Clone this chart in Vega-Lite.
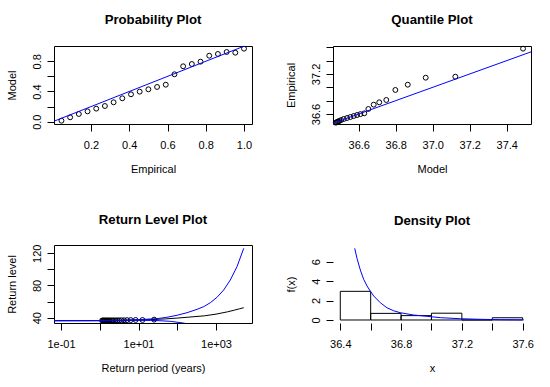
{
  "$schema": "https://vega.github.io/schema/vega-lite/v6.json",
  "padding": {"left": 5, "top": 12, "right": 5, "bottom": 5},
  "bounds": "flush",
  "columns": 2,
  "spacing": {"row": 121, "column": 81},
  "config": {
    "font": "Liberation Sans",
    "view": {"stroke": "black", "strokeWidth": 1},
    "title": {"fontSize": 13.2, "fontWeight": "bold", "offset": 17, "color": "black", "font": "Liberation Sans", "anchor": "middle"},
    "axis": {"labelFont": "Liberation Sans", "titleFont": "Liberation Sans", "labelFontSize": 11, "titleFontSize": 11, "titleFontWeight": "normal", "labelColor": "black", "titleColor": "black", "tickColor": "black", "domainColor": "black", "tickSize": 7, "grid": false, "labelFlush": false, "labelOverlap": false, "domain": false},
    "axisX": {"labelPadding": 8, "titlePadding": 13},
    "axisY": {"labelAngle": 270, "labelAlign": "center", "labelBaseline": "bottom", "labelPadding": 5, "titlePadding": 14}
  },
  "datasets": {
    "pp": [
      {"empirical": 0.0455, "model": 0.013}, {"empirical": 0.0909, "model": 0.058}, {"empirical": 0.1364, "model": 0.102},
      {"empirical": 0.1818, "model": 0.137}, {"empirical": 0.2273, "model": 0.173}, {"empirical": 0.2727, "model": 0.208},
      {"empirical": 0.3182, "model": 0.257}, {"empirical": 0.3636, "model": 0.31}, {"empirical": 0.4091, "model": 0.363},
      {"empirical": 0.4545, "model": 0.398}, {"empirical": 0.5, "model": 0.429}, {"empirical": 0.5455, "model": 0.46},
      {"empirical": 0.5909, "model": 0.49}, {"empirical": 0.6364, "model": 0.628}, {"empirical": 0.6818, "model": 0.734},
      {"empirical": 0.7273, "model": 0.764}, {"empirical": 0.7727, "model": 0.795}, {"empirical": 0.8182, "model": 0.874},
      {"empirical": 0.8636, "model": 0.897}, {"empirical": 0.9091, "model": 0.923}, {"empirical": 0.9545, "model": 0.914},
      {"empirical": 1.0, "model": 0.967}
    ],
    "ppline": [{"empirical": 0, "model": 0}, {"empirical": 1.05, "model": 1.05}],
    "qq": [
      {"model": 36.476, "empirical": 36.47}, {"model": 36.481, "empirical": 36.477}, {"model": 36.486, "empirical": 36.483},
      {"model": 36.49, "empirical": 36.488}, {"model": 36.495, "empirical": 36.495}, {"model": 36.505, "empirical": 36.51},
      {"model": 36.519, "empirical": 36.525}, {"model": 36.537, "empirical": 36.54}, {"model": 36.555, "empirical": 36.555},
      {"model": 36.573, "empirical": 36.57}, {"model": 36.591, "empirical": 36.585}, {"model": 36.609, "empirical": 36.598},
      {"model": 36.63, "empirical": 36.61}, {"model": 36.652, "empirical": 36.675}, {"model": 36.681, "empirical": 36.74},
      {"model": 36.711, "empirical": 36.775}, {"model": 36.749, "empirical": 36.81}, {"model": 36.798, "empirical": 36.96},
      {"model": 36.865, "empirical": 37.039}, {"model": 36.962, "empirical": 37.144}, {"model": 37.122, "empirical": 37.159},
      {"model": 37.488, "empirical": 37.579}
    ],
    "qqline": [{"model": 36.4, "empirical": 36.4}, {"model": 37.6, "empirical": 37.6}],
    "rlpts": [
      {"T": 1.15, "level": 36.47}, {"T": 1.205, "level": 36.477}, {"T": 1.265, "level": 36.483}, {"T": 1.332, "level": 36.488},
      {"T": 1.406, "level": 36.495}, {"T": 1.488, "level": 36.51}, {"T": 1.581, "level": 36.525}, {"T": 1.687, "level": 36.54},
      {"T": 1.807, "level": 36.555}, {"T": 1.946, "level": 36.57}, {"T": 2.108, "level": 36.585}, {"T": 2.3, "level": 36.598},
      {"T": 2.53, "level": 36.61}, {"T": 2.811, "level": 36.675}, {"T": 3.163, "level": 36.74}, {"T": 3.614, "level": 36.775},
      {"T": 4.217, "level": 36.81}, {"T": 5.06, "level": 36.96}, {"T": 6.325, "level": 37.039}, {"T": 8.433, "level": 37.144},
      {"T": 12.65, "level": 37.159}, {"T": 25.3, "level": 37.579}
    ],
    "rlline": [
      {"series": "est", "T": 0.066, "level": 36.3}, {"series": "est", "T": 0.5, "level": 36.32}, {"series": "est", "T": 1, "level": 36.36},
      {"series": "est", "T": 1.5, "level": 36.48}, {"series": "est", "T": 2, "level": 36.56}, {"series": "est", "T": 3, "level": 36.68},
      {"series": "est", "T": 5, "level": 36.86}, {"series": "est", "T": 10, "level": 37.15}, {"series": "est", "T": 20, "level": 37.6},
      {"series": "est", "T": 50, "level": 38.5}, {"series": "est", "T": 100, "level": 39.5}, {"series": "est", "T": 200, "level": 40.7},
      {"series": "est", "T": 500, "level": 42.3}, {"series": "est", "T": 1000, "level": 44.4}, {"series": "est", "T": 2000, "level": 47.3},
      {"series": "est", "T": 3000, "level": 49.4}, {"series": "est", "T": 4000, "level": 51.0}, {"series": "est", "T": 5200, "level": 52.4},
      {"series": "upper", "T": 0.066, "level": 36.3}, {"series": "upper", "T": 0.5, "level": 36.32}, {"series": "upper", "T": 1, "level": 36.38},
      {"series": "upper", "T": 2, "level": 36.65}, {"series": "upper", "T": 5, "level": 37.1}, {"series": "upper", "T": 10, "level": 37.6},
      {"series": "upper", "T": 30, "level": 38.8}, {"series": "upper", "T": 54, "level": 40.5}, {"series": "upper", "T": 99, "level": 43.0},
      {"series": "upper", "T": 179, "level": 46.2}, {"series": "upper", "T": 324, "level": 50.4}, {"series": "upper", "T": 482, "level": 53.7},
      {"series": "upper", "T": 713, "level": 58.6}, {"series": "upper", "T": 1060, "level": 65.3}, {"series": "upper", "T": 1580, "level": 74.4},
      {"series": "upper", "T": 2340, "level": 86.8}, {"series": "upper", "T": 3480, "level": 103.4}, {"series": "upper", "T": 5200, "level": 126.2},
      {"series": "lower", "T": 0.066, "level": 36.3}, {"series": "lower", "T": 0.5, "level": 36.32}, {"series": "lower", "T": 1, "level": 36.34},
      {"series": "lower", "T": 2, "level": 36.47}, {"series": "lower", "T": 5, "level": 36.62}, {"series": "lower", "T": 10, "level": 36.7},
      {"series": "lower", "T": 20, "level": 36.6}, {"series": "lower", "T": 30, "level": 36.4}, {"series": "lower", "T": 66, "level": 35.5},
      {"series": "lower", "T": 141, "level": 33.4}, {"series": "lower", "T": 300, "level": 30.5}, {"series": "lower", "T": 1000, "level": 20},
      {"series": "lower", "T": 5200, "level": -5}
    ],
    "hist": [
      {"x": 36.4, "x2": 36.6, "density": 2.95}, {"x": 36.6, "x2": 36.8, "density": 0.68}, {"x": 36.8, "x2": 37.0, "density": 0.45},
      {"x": 37.0, "x2": 37.2, "density": 0.70}, {"x": 37.2, "x2": 37.4, "density": 0}, {"x": 37.4, "x2": 37.6, "density": 0.23}
    ],
    "dens": [
      {"x": 36.495, "density": 7.375}, {"x": 36.51, "density": 6.34}, {"x": 36.532, "density": 5.14}, {"x": 36.554, "density": 4.18},
      {"x": 36.576, "density": 3.5}, {"x": 36.597, "density": 2.98}, {"x": 36.62, "density": 2.47}, {"x": 36.663, "density": 1.78},
      {"x": 36.707, "density": 1.26}, {"x": 36.751, "density": 0.95}, {"x": 36.795, "density": 0.75}, {"x": 36.883, "density": 0.51},
      {"x": 36.97, "density": 0.38}, {"x": 37.058, "density": 0.24}, {"x": 37.189, "density": 0.13}, {"x": 37.321, "density": 0.07},
      {"x": 37.453, "density": 0.03}, {"x": 37.607, "density": 0.01}
    ]
  },
  "concat": [
    {
      "width": 198, "height": 78,
      "title": "Probability Plot",
      "encoding": {
        "x": {"field": "empirical", "type": "quantitative", "scale": {"domain": [0.0065, 1.0418], "nice": false, "zero": false},
              "axis": {"title": "Empirical", "values": [0.2, 0.4, 0.6, 0.8, 1.0], "format": ".1f"}},
        "y": {"field": "model", "type": "quantitative", "scale": {"domain": [-0.0305, 1.0026], "nice": false, "zero": false},
              "axis": {"title": "Model", "values": [0, 0.2, 0.4, 0.6, 0.8], "format": ".1f",
                       "labelExpr": "datum.value == 0 || datum.value == 0.4 || datum.value == 0.8 ? datum.label : ''"}}
      },
      "layer": [
        {"data": {"name": "pp"}, "mark": {"type": "point", "shape": "circle", "filled": false, "size": 24, "strokeWidth": 1, "color": "black", "opacity": 1}},
        {"data": {"name": "ppline"}, "mark": {"type": "line", "color": "blue", "strokeWidth": 1, "clip": true}}
      ]
    },
    {
      "width": 198, "height": 78,
      "title": "Quantile Plot",
      "encoding": {
        "x": {"field": "model", "type": "quantitative", "scale": {"domain": [36.461, 37.531], "nice": false, "zero": false},
              "axis": {"title": "Model", "values": [36.6, 36.8, 37.0, 37.2, 37.4], "format": ".1f"}},
        "y": {"field": "empirical", "type": "quantitative", "scale": {"domain": [36.45, 37.619], "nice": false, "zero": false},
              "axis": {"title": "Empirical", "values": [36.6, 36.8, 37.0, 37.2, 37.4, 37.6], "format": ".1f",
                       "labelExpr": "datum.value == 36.6 || datum.value == 37.2 ? datum.label : ''"}}
      },
      "layer": [
        {"data": {"name": "qq"}, "mark": {"type": "point", "shape": "circle", "filled": false, "size": 24, "strokeWidth": 1, "color": "black", "opacity": 1}},
        {"data": {"name": "qqline"}, "mark": {"type": "line", "color": "blue", "strokeWidth": 1, "clip": true}}
      ]
    },
    {
      "width": 198, "height": 78,
      "title": "Return Level Plot",
      "encoding": {
        "x": {"field": "T", "type": "quantitative", "scale": {"type": "log", "domain": [0.0659, 8492], "nice": false},
              "axis": {"title": "Return period (years)", "values": [0.1, 1, 10, 100, 1000],
                       "labelExpr": "datum.value == 0.1 ? '1e-01' : datum.value == 10 ? '1e+01' : datum.value == 1000 ? '1e+03' : ''"}},
        "y": {"field": "level", "type": "quantitative", "scale": {"domain": [33.4, 130.3], "nice": false, "zero": false},
              "axis": {"title": "Return level", "values": [40, 60, 80, 100, 120],
                       "labelExpr": "datum.value == 40 || datum.value == 80 || datum.value == 120 ? datum.label : ''"}}
      },
      "layer": [
        {"data": {"name": "rlpts"}, "mark": {"type": "point", "shape": "circle", "filled": false, "size": 24, "strokeWidth": 1, "color": "black", "opacity": 1}},
        {"data": {"name": "rlline"}, "mark": {"type": "line", "strokeWidth": 1, "clip": true},
         "encoding": {"color": {"field": "series", "type": "nominal", "scale": {"domain": ["est", "upper", "lower"], "range": ["black", "blue", "blue"]}, "legend": null}}}
      ]
    },
    {
      "width": 198, "height": 78,
      "title": "Density Plot",
      "view": {"stroke": null},
      "encoding": {
        "x": {"field": "x", "type": "quantitative", "scale": {"domain": [36.352, 37.655], "nice": false, "zero": false},
              "axis": {"title": "x", "values": [36.4, 36.6, 36.8, 37.0, 37.2, 37.4, 37.6], "format": ".1f",
                       "labelExpr": "datum.value == 36.4 || datum.value == 36.8 || datum.value == 37.2 || datum.value == 37.6 ? datum.label : ''"}},
        "y": {"field": "density", "type": "quantitative", "scale": {"domain": [-0.31, 7.72], "nice": false, "zero": false},
              "axis": {"title": "f(x)", "values": [0, 2, 4, 6], "format": "d"}}
      },
      "layer": [
        {"data": {"name": "hist"}, "mark": {"type": "rect", "fillOpacity": 0, "fill": "white", "stroke": "black", "strokeWidth": 1},
         "encoding": {"x2": {"field": "x2"}, "y2": {"datum": 0}}},
        {"data": {"name": "dens"}, "mark": {"type": "line", "color": "blue", "strokeWidth": 1, "clip": true}},
        {"data": {"values": [{}]}, "mark": {"type": "rule", "color": "black", "strokeWidth": 1},
         "encoding": {"x": {"datum": 36.4}, "x2": {"datum": 37.6}, "y": {"datum": -0.31}}},
        {"data": {"values": [{}]}, "mark": {"type": "rule", "color": "black", "strokeWidth": 1},
         "encoding": {"x": {"datum": 36.352}, "y": {"datum": 0}, "y2": {"datum": 6}}}
      ]
    }
  ]
}
